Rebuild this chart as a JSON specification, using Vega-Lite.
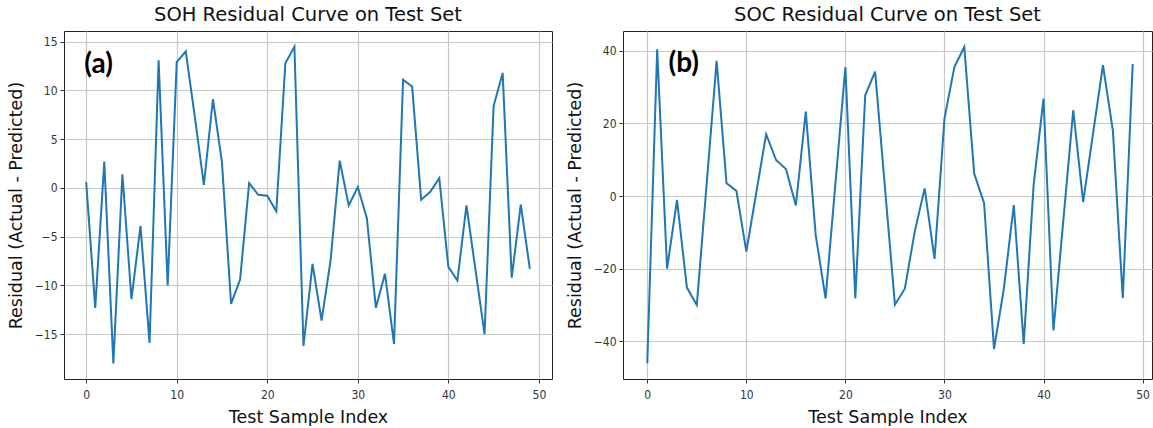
{
  "$schema": "https://vega.github.io/schema/vega-lite/v6.json",
  "background": "white",
  "padding": {"left": 6, "top": 4, "right": 0, "bottom": 0},
  "spacing": 12,
  "datasets": {
    "soh": [
      {"i":0,"r":0.6},{"i":1,"r":-12.3},{"i":2,"r":2.7},{"i":3,"r":-18.0},{"i":4,"r":1.4},
      {"i":5,"r":-11.4},{"i":6,"r":-3.9},{"i":7,"r":-15.9},{"i":8,"r":13.1},{"i":9,"r":-10.0},
      {"i":10,"r":12.9},{"i":11,"r":14.0},{"i":12,"r":7.3},{"i":13,"r":0.3},{"i":14,"r":9.1},
      {"i":15,"r":2.6},{"i":16,"r":-11.9},{"i":17,"r":-9.4},{"i":18,"r":0.5},{"i":19,"r":-0.7},
      {"i":20,"r":-0.8},{"i":21,"r":-2.4},{"i":22,"r":12.8},{"i":23,"r":14.5},{"i":24,"r":-16.2},
      {"i":25,"r":-7.8},{"i":26,"r":-13.6},{"i":27,"r":-7.4},{"i":28,"r":2.8},{"i":29,"r":-1.8},
      {"i":30,"r":0.1},{"i":31,"r":-3.1},{"i":32,"r":-12.3},{"i":33,"r":-8.8},{"i":34,"r":-16.0},
      {"i":35,"r":11.1},{"i":36,"r":10.4},{"i":37,"r":-1.2},{"i":38,"r":-0.4},{"i":39,"r":1.0},
      {"i":40,"r":-8.1},{"i":41,"r":-9.5},{"i":42,"r":-1.8},{"i":43,"r":-8.4},{"i":44,"r":-15.0},
      {"i":45,"r":8.4},{"i":46,"r":11.8},{"i":47,"r":-9.2},{"i":48,"r":-1.7},{"i":49,"r":-8.3}
    ],
    "soc": [
      {"i":0,"r":-46.0},{"i":1,"r":40.4},{"i":2,"r":-20.0},{"i":3,"r":-1.1},{"i":4,"r":-25.2},
      {"i":5,"r":-30.0},{"i":6,"r":3.5},{"i":7,"r":37.2},{"i":8,"r":3.5},{"i":9,"r":1.4},
      {"i":10,"r":-15.3},{"i":11,"r":0.9},{"i":12,"r":17.0},{"i":13,"r":9.9},{"i":14,"r":7.4},
      {"i":15,"r":-2.6},{"i":16,"r":23.2},{"i":17,"r":-10.7},{"i":18,"r":-28.2},{"i":19,"r":3.7},
      {"i":20,"r":35.5},{"i":21,"r":-28.2},{"i":22,"r":27.7},{"i":23,"r":34.2},{"i":24,"r":2.1},
      {"i":25,"r":-29.9},{"i":26,"r":-25.5},{"i":27,"r":-9.8},{"i":28,"r":2.1},{"i":29,"r":-17.3},
      {"i":30,"r":21.3},{"i":31,"r":35.5},{"i":32,"r":41.0},{"i":33,"r":6.2},{"i":34,"r":-2.0},
      {"i":35,"r":-42.1},{"i":36,"r":-25.4},{"i":37,"r":-2.5},{"i":38,"r":-40.7},{"i":39,"r":3.0},
      {"i":40,"r":26.8},{"i":41,"r":-37.0},{"i":42,"r":-6.7},{"i":43,"r":23.6},{"i":44,"r":-1.7},
      {"i":45,"r":17.2},{"i":46,"r":36.0},{"i":47,"r":18.0},{"i":48,"r":-28.1},{"i":49,"r":36.3}
    ],
    "tagA": [{"x": -0.2, "y": 12.66, "t": "(a)"}],
    "tagB": [{"x": 2.15, "y": 36.2, "t": "(b)"}]
  },
  "config": {
    "font": "DejaVu Sans",
    "view": {"stroke": "#222222", "strokeWidth": 1},
    "axis": {
      "domain": false,
      "gridColor": "#c8c8c8",
      "gridWidth": 1.2,
      "tickColor": "#333333",
      "tickSize": 4,
      "labelFont": "DejaVu Sans Condensed, DejaVu Sans",
      "labelFontSize": 12,
      "labelColor": "#333333",
      "labelPadding": 3,
      "titleFont": "DejaVu Sans",
      "titleFontSize": 17.5,
      "titleFontWeight": "normal",
      "titleColor": "#111111"
    },
    "axisX": {"titlePadding": 8, "labelPadding": 6},
    "axisY": {"titlePadding": 11, "minExtent": 28, "maxExtent": 28},
    "title": {"font": "DejaVu Sans", "fontSize": 19.5, "fontWeight": "normal", "color": "#111111", "offset": 6}
  },
  "hconcat": [
    {
      "width": 488,
      "height": 348,
      "title": "SOH Residual Curve on Test Set",
      "layer": [
        {
          "data": {"name": "soh"},
          "mark": {"type": "line", "color": "#1f77b4", "strokeWidth": 2},
          "encoding": {
            "x": {"field": "i", "type": "quantitative", "title": "Test Sample Index",
                  "scale": {"domain": [-2.45, 51.45], "nice": false, "zero": false},
                  "axis": {"values": [0, 10, 20, 30, 40, 50]}},
            "y": {"field": "r", "type": "quantitative", "title": "Residual (Actual - Predicted)",
                  "scale": {"domain": [-19.6, 16.1], "nice": false, "zero": false},
                  "axis": {"values": [-15, -10, -5, 0, 5, 10, 15]}}
          }
        },
        {
          "data": {"name": "tagA"},
          "mark": {"type": "text", "font": "Lato", "fontWeight": "bold", "fontSize": 28, "align": "left", "baseline": "middle", "color": "#000000"},
          "encoding": {
            "x": {"field": "x", "type": "quantitative"},
            "y": {"field": "y", "type": "quantitative"},
            "text": {"field": "t"}
          }
        }
      ]
    },
    {
      "width": 529,
      "height": 348,
      "title": "SOC Residual Curve on Test Set",
      "layer": [
        {
          "data": {"name": "soc"},
          "mark": {"type": "line", "color": "#1f77b4", "strokeWidth": 2},
          "encoding": {
            "x": {"field": "i", "type": "quantitative", "title": "Test Sample Index",
                  "scale": {"domain": [-2.45, 50.95], "nice": false, "zero": false},
                  "axis": {"values": [0, 10, 20, 30, 40, 50]}},
            "y": {"field": "r", "type": "quantitative", "title": "Residual (Actual - Predicted)",
                  "scale": {"domain": [-50.35, 45.4], "nice": false, "zero": false},
                  "axis": {"values": [-40, -20, 0, 20, 40]}}
          }
        },
        {
          "data": {"name": "tagB"},
          "mark": {"type": "text", "font": "Lato", "fontWeight": "bold", "fontSize": 28, "align": "left", "baseline": "middle", "color": "#000000"},
          "encoding": {
            "x": {"field": "x", "type": "quantitative"},
            "y": {"field": "y", "type": "quantitative"},
            "text": {"field": "t"}
          }
        }
      ]
    }
  ]
}
